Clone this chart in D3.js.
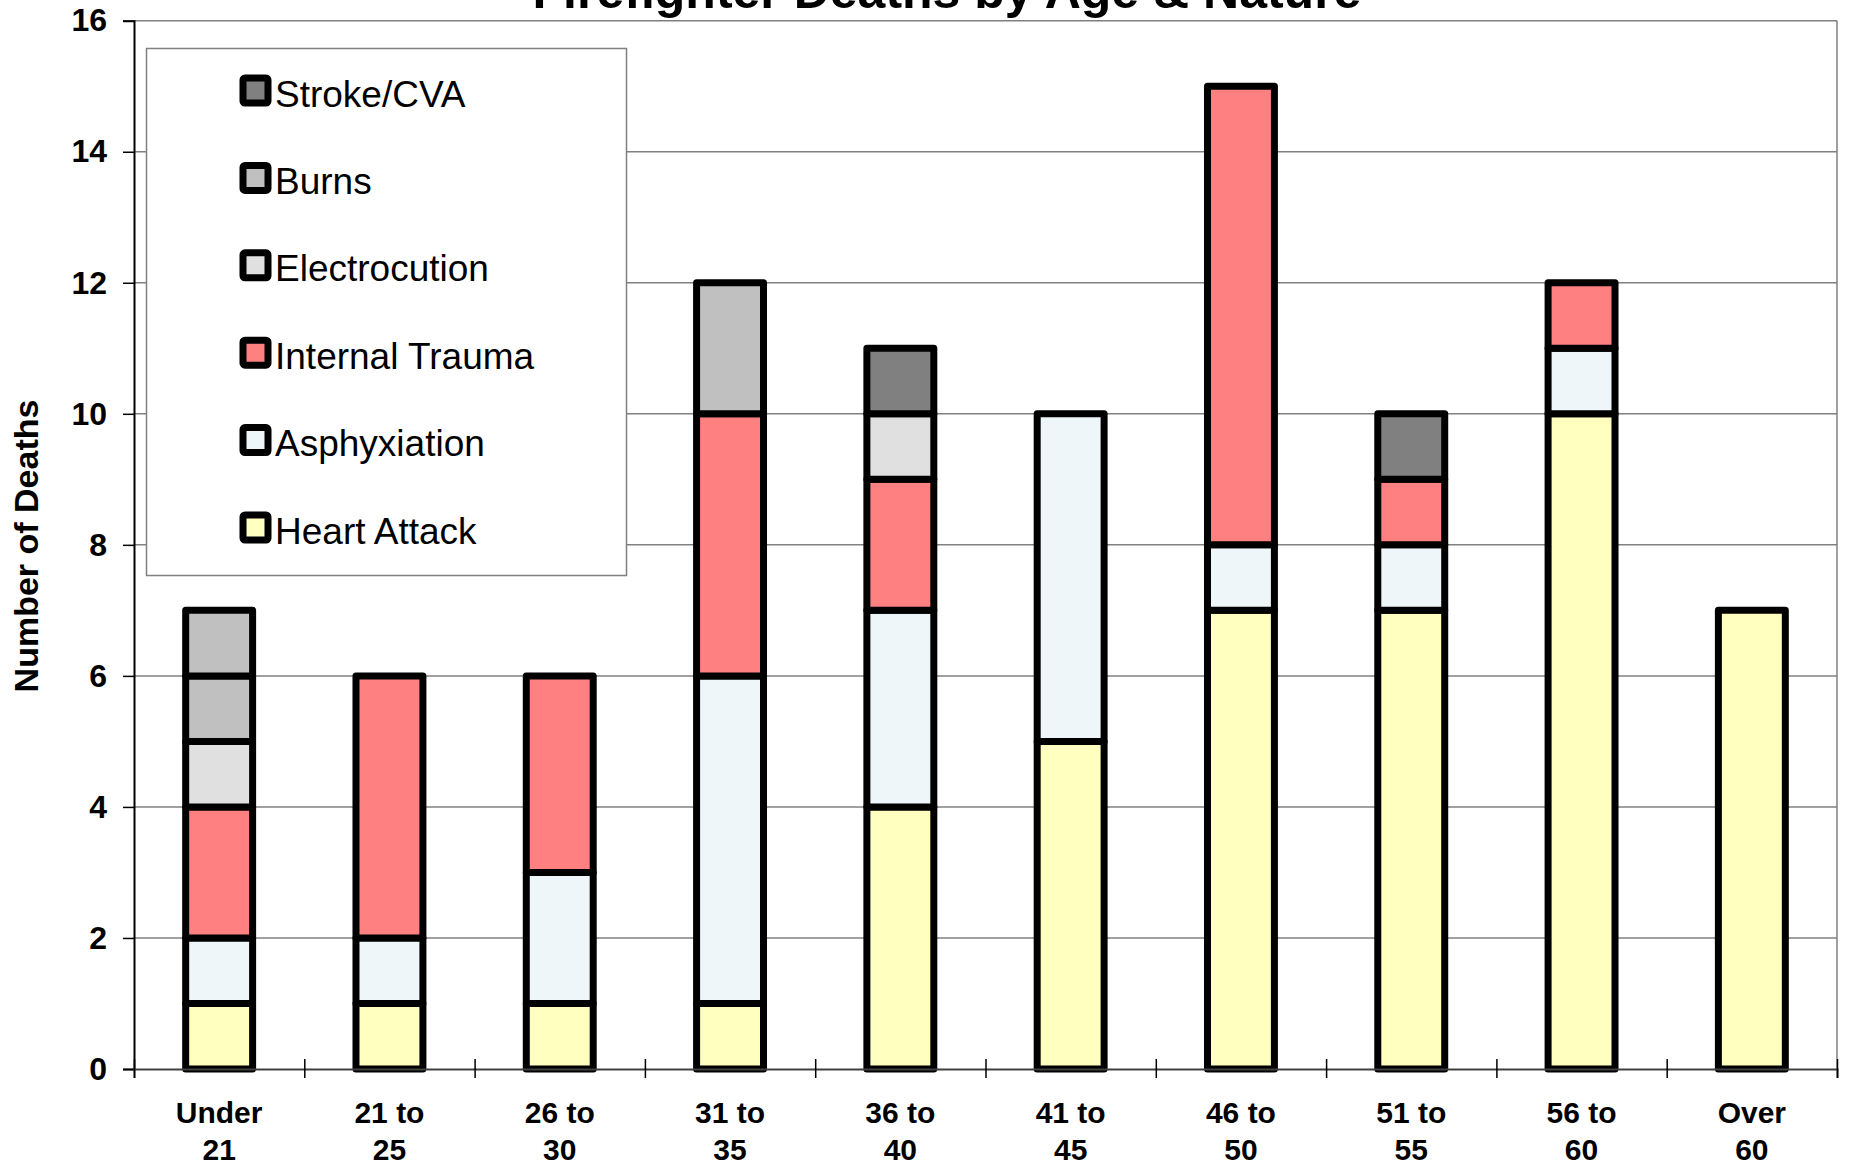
<!DOCTYPE html>
<html>
<head>
<meta charset="utf-8">
<script src="https://cdn.jsdelivr.net/npm/d3@7"></script>
<style>
  html, body { margin: 0; padding: 0; background: #fff; }
  svg { display: block; font-family: "Liberation Sans", Arial, sans-serif; }
</style>
</head>
<body>
<div id="chart"></div>
<script>
// age groups along the bottom
var categories = ["Under 21", "21 to 25", "26 to 30", "31 to 35", "36 to 40",
                  "41 to 45", "46 to 50", "51 to 55", "56 to 60", "Over 60"];

// deaths per nature, stacked bottom to top
var heartAttack    = [1, 1, 1, 1, 4, 5, 7, 7, 10, 7];
var asphyxiation   = [1, 1, 2, 5, 3, 5, 1, 1, 1, 0];
var internalTrauma = [2, 4, 3, 4, 2, 0, 7, 1, 1, 0];
var electrocution  = [1, 0, 0, 0, 1, 0, 0, 0, 0, 0];
var burns          = [1, 0, 0, 2, 0, 0, 0, 0, 0, 0];
var strokeCVA      = [0, 0, 0, 0, 1, 0, 0, 1, 0, 0];
var burnsExtra     = [1, 0, 0, 0, 0, 0, 0, 0, 0, 0]; // second burns block in "Under 21"

var yTicks = [0, 2, 4, 6, 8, 10, 12, 14, 16];

var series = [
    {key: "Heart Attack",    values: heartAttack,    color: "#FFFFC0", legend: true},
    {key: "Asphyxiation",    values: asphyxiation,   color: "#EEF6FA", legend: true},
    {key: "Internal Trauma", values: internalTrauma, color: "#FF8080", legend: true},
    {key: "Electrocution",   values: electrocution,  color: "#E0E0E0", legend: true},
    {key: "Burns",           values: burns,          color: "#C0C0C0", legend: true},
    {key: "Stroke/CVA",      values: strokeCVA,      color: "#808080", legend: true},
    {key: "Burns 2",         values: burnsExtra,     color: "#C0C0C0", legend: false}
];

var chartW = 1849, chartH = 1168;
var plotLeft = 134, plotRight = 1837, plotTop = 20.7, plotBottom = 1069;

var svg = d3.select("#chart").append("svg")
    .attr("width", chartW)
    .attr("height", chartH);

var rows = categories.map(function(c, i) {
    var r = {cat: c};
    series.forEach(function(s) { r[s.key] = s.values[i]; });
    return r;
});

var stack = d3.stack().keys(series.map(function(s) { return s.key; }));
var layers = stack(rows);

var x = d3.scaleBand()
    .domain(categories)
    .range([plotLeft, plotRight])
    .paddingInner(0.607)
    .paddingOuter(0.3035);

var xEdge = d3.scaleLinear().domain([0, categories.length]).range([plotLeft, plotRight]);

var y = d3.scaleLinear().domain([0, 16]).range([plotBottom, plotTop]);

// gridlines
svg.append("g")
    .selectAll("line")
    .data(yTicks.filter(function(t) { return t > 0; }))
    .enter().append("line")
    .attr("x1", plotLeft).attr("x2", plotRight)
    .attr("y1", function(d) { return y(d); })
    .attr("y2", function(d) { return y(d); })
    .attr("stroke", "#808080")
    .attr("stroke-width", 1.5);

// right border of the plot area
svg.append("line")
    .attr("x1", plotRight).attr("x2", plotRight)
    .attr("y1", plotTop).attr("y2", plotBottom)
    .attr("stroke", "#808080")
    .attr("stroke-width", 1.5);

// bars
var colorOf = {};
series.forEach(function(s) { colorOf[s.key] = s.color; });

svg.append("g")
    .selectAll("g")
    .data(layers)
    .enter().append("g")
    .attr("fill", function(d) { return colorOf[d.key]; })
    .selectAll("rect")
    .data(function(d) { return d.filter(function(p) { return p[1] > p[0]; }); })
    .enter().append("rect")
    .attr("x", function(d) { return x(d.data.cat); })
    .attr("width", x.bandwidth())
    .attr("y", function(d) { return y(d[1]); })
    .attr("height", function(d) { return y(d[0]) - y(d[1]); })
    .attr("stroke", "#000")
    .attr("stroke-width", 7)
    .attr("stroke-linejoin", "round");

// y axis
var yAxis = svg.append("g")
    .attr("transform", "translate(" + plotLeft + ",0)")
    .call(d3.axisLeft(y).tickValues(yTicks).tickSize(11).tickPadding(16).tickFormat(d3.format("d")));
yAxis.select(".domain").attr("stroke", "#000").attr("stroke-width", 2);
yAxis.selectAll(".tick line").attr("stroke", "#000").attr("stroke-width", 1.5);
yAxis.selectAll("text")
    .attr("font-size", 32)
    .attr("font-weight", "bold")
    .attr("font-family", "'Liberation Sans', Arial, sans-serif")
    .attr("fill", "#000");

// x axis with ticks between categories
var xAxis = svg.append("g")
    .attr("transform", "translate(0," + plotBottom + ")")
    .call(d3.axisBottom(xEdge).ticks(categories.length).tickSize(9).tickFormat(""));
xAxis.select(".domain").attr("stroke", "#404040").attr("stroke-width", 2);
xAxis.selectAll(".tick line").attr("y1", -10).attr("stroke", "#000").attr("stroke-width", 1.5);

svg.append("g")
    .selectAll("text")
    .data(categories)
    .enter().append("text")
    .attr("text-anchor", "middle")
    .attr("font-size", 30)
    .attr("font-weight", "bold")
    .attr("x", function(d) { return x(d) + x.bandwidth() / 2; })
    .attr("y", 1123)
    .each(function(d) {
        var parts = d.split(" ");
        var first = parts.slice(0, parts.length - 1).join(" ");
        var last = parts[parts.length - 1];
        var t = d3.select(this);
        var cx = t.attr("x");
        t.append("tspan").attr("x", cx).text(first);
        t.append("tspan").attr("x", cx).attr("dy", 37).text(last);
    });

// y axis title
svg.append("text")
    .attr("transform", "translate(38,546) rotate(-90)")
    .attr("text-anchor", "middle")
    .attr("font-size", 34)
    .attr("font-weight", "bold")
    .text("Number of Deaths");

// chart title, cut off by the top edge
svg.append("text")
    .attr("x", 947)
    .attr("y", 8)
    .attr("text-anchor", "middle")
    .attr("font-size", 50)
    .attr("font-weight", "bold")
    .text("Firefighter Deaths by Age & Nature");

// legend
var legendItems = series.filter(function(s) { return s.legend; }).reverse();
var legend = svg.append("g");
legend.append("rect")
    .attr("x", 146.5).attr("y", 48.5)
    .attr("width", 480).attr("height", 527)
    .attr("fill", "#fff")
    .attr("stroke", "#808080")
    .attr("stroke-width", 1.5);

var item = legend.selectAll(".item")
    .data(legendItems)
    .enter().append("g")
    .attr("class", "item")
    .attr("transform", function(d, i) { return "translate(0," + (90 + i * 87.4) + ")"; });

item.append("rect")
    .attr("x", 243).attr("y", -12)
    .attr("width", 25).attr("height", 25)
    .attr("rx", 2)
    .attr("fill", function(d) { return d.color; })
    .attr("stroke", "#000")
    .attr("stroke-width", 7)
    .attr("stroke-linejoin", "round");

item.append("text")
    .attr("x", 275)
    .attr("y", 16.5)
    .attr("font-size", 37)
    .text(function(d) { return d.key; });
</script>
</body>
</html>
